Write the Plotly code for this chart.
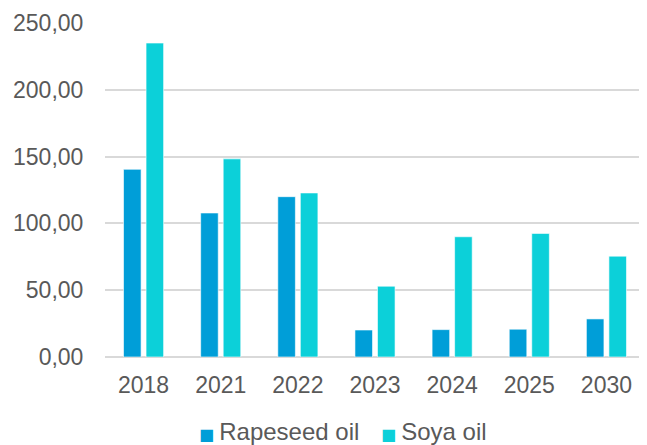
import plotly.graph_objects as go

years = ["2018", "2021", "2022", "2023", "2024", "2025", "2030"]
rapeseed = [140.5, 107.8, 120.0, 20.2, 20.5, 20.8, 28.5]
soya = [235.0, 148.3, 122.8, 53.0, 90.0, 92.5, 75.5]
y_ticks = [0, 50, 100, 150, 200, 250]
series_names = ["Rapeseed oil", "Soya oil"]
series_colors = ["#009ED8", "#0CD0D9"]

font_family = "Liberation Sans, Arial, sans-serif"
text_color = "#595959"
fs = 23

fig = go.Figure()
for name, vals, col in zip(series_names, [rapeseed, soya], series_colors):
    fig.add_trace(go.Bar(
        x=years, y=vals, name=name,
        marker=dict(color=col, line=dict(color="rgba(255,255,255,0.6)", width=1)),
    ))

# legend drawn as text annotations so it can sit close to the page edge
legend_x = [0.1726, 0.5096]
for name, col, lx in zip(series_names, series_colors, legend_x):
    fig.add_annotation(
        xref="paper", yref="paper", x=lx, y=-0.222, xanchor="left", yanchor="middle",
        showarrow=False, borderpad=0,
        text=f"<span style='color:{col};font-size:16px;font-family:DejaVu Sans'>■ </span>{name}",
        font=dict(family=font_family, size=24, color=text_color),
    )

fig.update_layout(
    width=639, height=437,
    margin=dict(l=97, r=2, t=15, b=88),
    paper_bgcolor="white", plot_bgcolor="white",
    barmode="group", bargap=0.416, bargroupgap=0.22,
    separators=", ",
    font=dict(family=font_family, size=fs, color=text_color),
    showlegend=False,
    xaxis=dict(showgrid=False, showline=False, automargin=False,
               ticks="outside", ticklen=7, tickcolor="rgba(0,0,0,0)",
               tickfont=dict(size=fs)),
    yaxis=dict(range=[0, 250], tickvals=y_ticks, tickformat=".2f", automargin=False,
               showgrid=True, gridcolor="#D9D9D9", gridwidth=1.5,
               zeroline=True, zerolinecolor="#D9D9D9", zerolinewidth=1.5,
               showline=False, ticks="outside", ticklen=16, tickcolor="rgba(0,0,0,0)",
               tickfont=dict(size=fs)),
)

fig.write_html("out.html")
